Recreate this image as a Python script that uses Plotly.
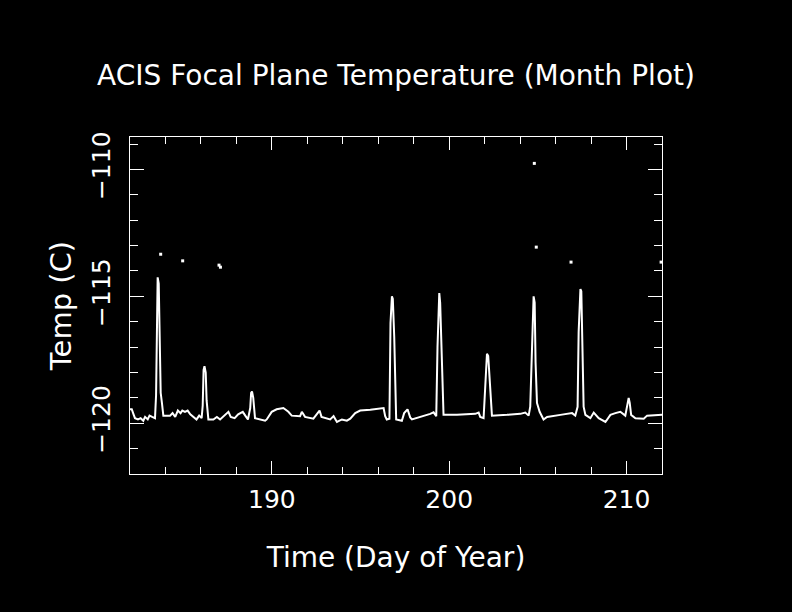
import plotly.graph_objects as go

# Time (day of year) and focal plane temperature (C)
days = [182.0, 182.1, 182.2, 182.28, 182.45, 182.6, 182.75, 182.85, 183.0, 183.1, 183.25, 183.41,
        183.47, 183.52, 183.56, 183.62, 183.68, 183.73, 183.8, 183.88, 184.26, 184.4, 184.55, 184.7,
        184.85, 184.95, 185.1, 185.25, 185.4, 185.57, 185.75, 185.9, 186.04,
        186.1, 186.15, 186.2, 186.27, 186.32, 186.42, 186.7, 186.9, 187.08, 187.3, 187.55, 187.68,
        187.9, 188.1, 188.36, 188.5, 188.65, 188.78, 188.83, 188.88, 188.95, 189.05, 189.3, 189.62,
        189.71, 189.99, 190.27, 190.65, 190.93, 191.12, 191.59, 191.69, 191.87, 192.34, 192.69,
        192.8, 193.29, 193.48, 193.67, 193.95, 194.23, 194.42, 194.7, 194.98, 195.55, 196.11,
        196.3, 196.39, 196.48, 196.63, 196.69, 196.77, 196.82, 196.9, 196.95, 197.01, 197.33,
        197.46, 197.65, 197.8, 197.9, 198.37, 198.74, 198.93, 199.12, 199.27, 199.34, 199.44,
        199.49, 199.59, 199.68, 200.44, 201.47, 201.66, 201.75, 201.94, 202.03, 202.13, 202.2,
        202.32, 202.41, 203.26, 204.01, 204.29, 204.48, 204.57, 204.67, 204.76, 204.82, 204.87,
        204.95, 205.1, 205.32, 205.52, 206.27, 206.93, 207.11, 207.24, 207.3, 207.4, 207.45,
        207.53, 207.58, 207.68, 207.96, 208.15, 208.43, 208.81, 209.09, 209.37, 209.65, 209.93,
        210.03, 210.12, 210.18, 210.26, 210.5, 210.97, 211.16, 212.0]
temps = [-119.45, -119.45, -119.65, -119.8, -119.85, -119.8, -119.9, -119.75, -119.85, -119.7, -119.75, -119.8,
         -118.9, -115.5, -114.25, -114.5, -116.5, -118.8, -119.2, -119.7, -119.7, -119.6, -119.75, -119.5,
         -119.6, -119.5, -119.55, -119.5, -119.65, -119.75, -119.85, -119.7, -119.8,
         -119.3, -117.9, -117.75, -118.0, -119.1, -119.85, -119.85, -119.75, -119.85, -119.7, -119.55, -119.75,
         -119.8, -119.65, -119.55, -119.7, -119.85, -119.4, -118.8, -118.75, -119.0, -119.8, -119.85, -119.9,
         -119.85, -119.55, -119.45, -119.4, -119.55, -119.7, -119.72, -119.55, -119.75, -119.82, -119.5,
         -119.75, -119.85, -119.72, -119.95, -119.85, -119.9, -119.82, -119.6, -119.5, -119.47, -119.4,
         -119.4, -119.72, -119.85, -119.82, -116.05, -115.0, -115.1, -116.6, -118.95, -119.85, -119.9,
         -119.6, -119.45, -119.77, -119.85, -119.75, -119.7, -119.63, -119.57, -119.72, -117.0, -114.87,
         -115.25, -117.6, -119.67, -119.67, -119.63, -119.58, -119.75, -119.8, -118.8, -117.26, -117.35,
         -118.95, -119.7, -119.67, -119.63, -119.58, -119.7, -119.35, -116.6, -115.0, -115.25, -117.6,
         -119.2, -119.55, -119.85, -119.75, -119.67, -119.6, -119.7, -119.35, -116.4, -114.71, -114.8,
         -117.98, -119.35, -119.67, -119.8, -119.58, -119.8, -119.95, -119.67, -119.6, -119.55, -119.7,
         -119.35, -119.0, -119.2, -119.67, -119.8, -119.82, -119.7, -119.67]

# Isolated stray readings
stray_days = [183.73, 184.97, 187.02, 187.1, 204.8, 204.91, 206.87, 211.95]
stray_temps = [-113.34, -113.6, -113.77, -113.85, -109.76, -113.06, -113.65, -113.65]

x_ticks = [190, 200, 210]
x_labels = ["190", "200", "210"]
y_ticks = [-110, -115, -120]
y_labels = ["\u2212110", "\u2212115", "\u2212120"]

FONT = "DejaVu Sans"

fig = go.Figure()
fig.add_trace(go.Scatter(x=days, y=temps, mode="lines",
                         line=dict(color="white", width=2), showlegend=False))
fig.add_trace(go.Scatter(x=stray_days, y=stray_temps, mode="markers",
                         marker=dict(color="white", size=3, symbol="square"), showlegend=False))

axis_common = dict(showgrid=False, zeroline=False, showline=True, linecolor="white", linewidth=1,
                   mirror="allticks", ticks="inside", tickcolor="white", tickwidth=1,
                   tickfont=dict(family=FONT, size=25, color="white"))

fig.update_layout(
    width=792, height=612,
    paper_bgcolor="black", plot_bgcolor="black",
    margin=dict(l=130, r=130, t=137, b=138),
    title=dict(text="ACIS Focal Plane Temperature (Month Plot)", x=0.5, xanchor="center",
               y=1 - 75 / 612, yanchor="middle",
               font=dict(family=FONT, size=28, color="white")),
    xaxis=dict(range=[182, 212], tickvals=x_ticks, ticktext=x_labels, ticklen=13,
               minor=dict(dtick=2, tick0=182, ticklen=7, ticks="inside", tickcolor="white"),
               ticklabelstandoff=3,
               title=dict(text="Time (Day of Year)", font=dict(family=FONT, size=28, color="white"),
                          standoff=34),
               **axis_common),
    yaxis=dict(range=[-122, -108.72], tickvals=y_ticks, ticktext=y_labels, ticklen=14,
               tickangle=-90,
               minor=dict(dtick=1, tick0=-122, ticklen=8, ticks="inside", tickcolor="white"),
               ticklabelstandoff=9,
               title=dict(text="Temp (C)", font=dict(family=FONT, size=29, color="white"),
                          standoff=6),
               **axis_common),
)

fig.write_html("out.html",
               config={"displayModeBar": False},
               post_script="document.body.style.margin='0';document.body.style.background='black';")
